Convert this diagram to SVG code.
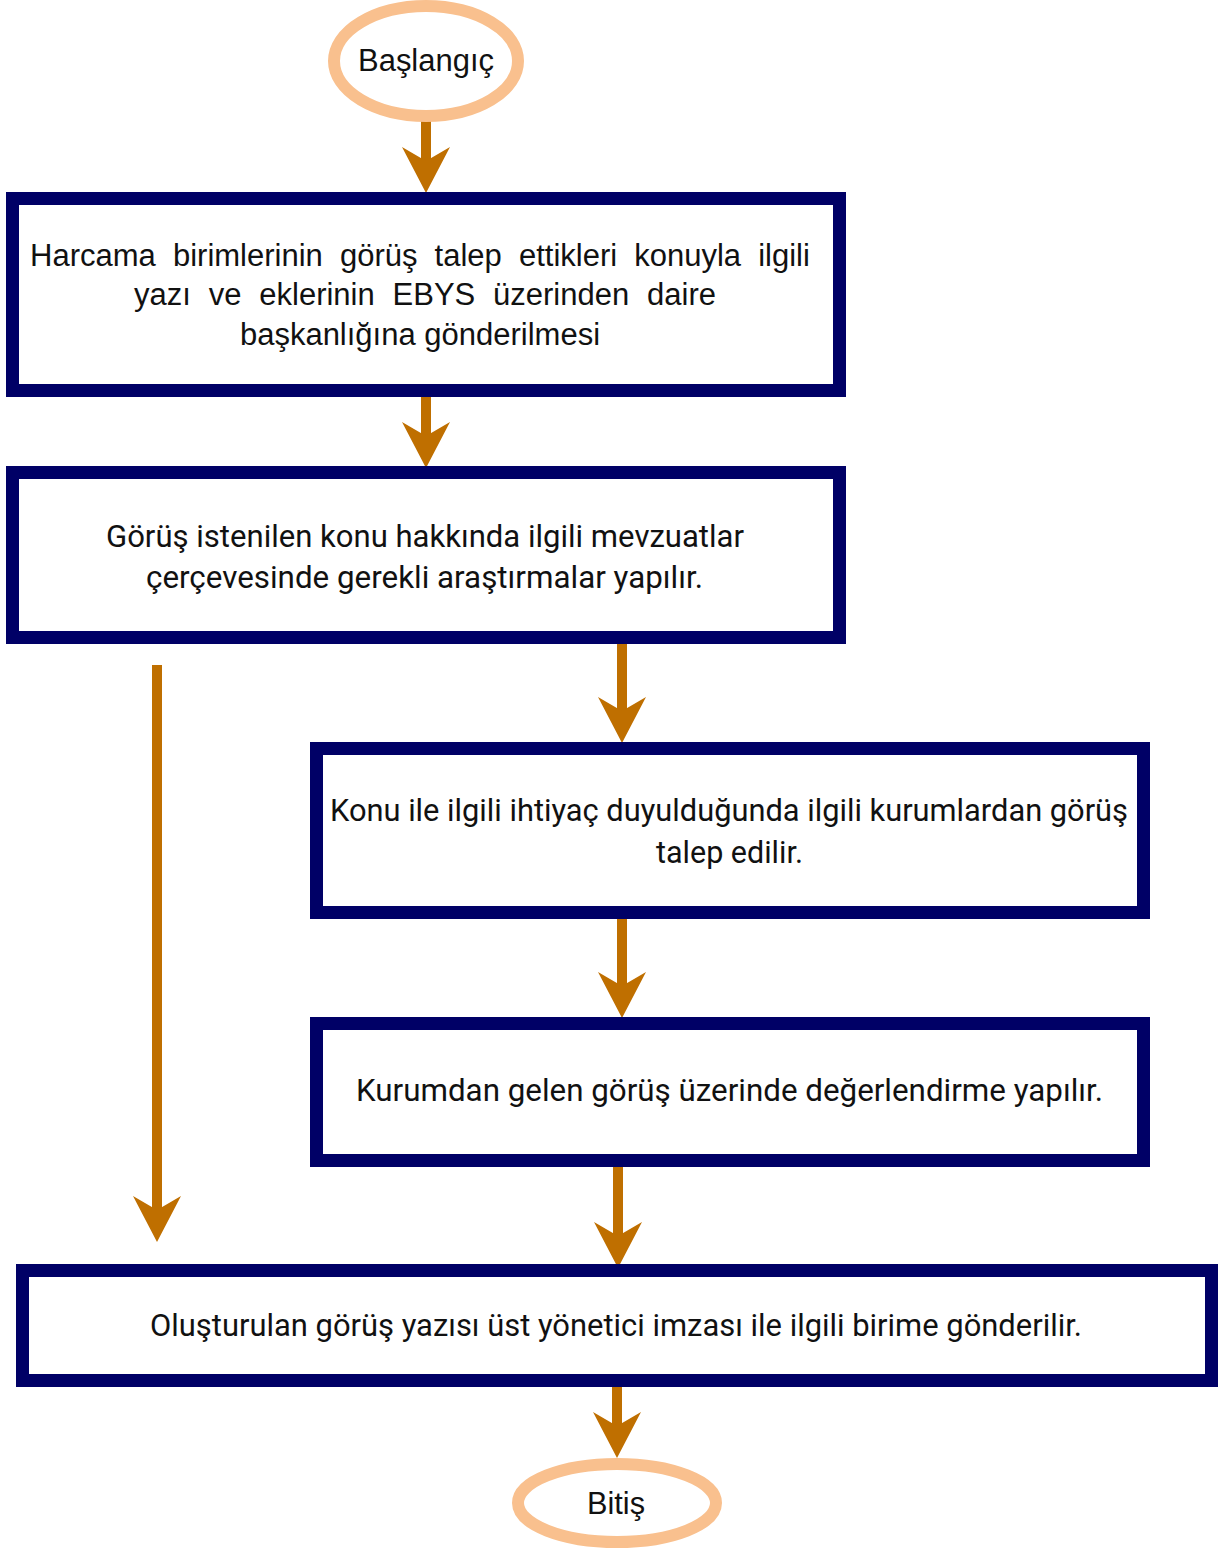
<svg xmlns="http://www.w3.org/2000/svg" width="1218" height="1550" viewBox="0 0 1218 1550">
<style>
.box{fill:#fff;stroke:#000066;stroke-width:13}
.term{fill:#fff;stroke:#F9C08E;stroke-width:12}
.t{font-family:Roboto,"Liberation Sans",sans-serif;font-size:31px;fill:#111;text-anchor:middle}
.a{font-family:"Liberation Sans",Arial,sans-serif;font-size:31px;fill:#111;text-anchor:middle}
.c{stroke:#BF6F00;stroke-width:10;fill:none;marker-end:url(#ah)}
</style>
<defs>
<marker id="ah" markerUnits="userSpaceOnUse" viewBox="-46 -24 46 48" markerWidth="46" markerHeight="48" refX="-14" refY="0" orient="auto">
<path d="M0,0 L-46,-24 L-32,0 L-46,24 Z" fill="#BF6F00"/>
</marker>
</defs>
<rect width="1218" height="1550" fill="#fff"/>
<g id="connectors">
<line class="c" x1="426" y1="118" x2="426" y2="179"/>
<line class="c" x1="426" y1="397" x2="426" y2="454"/>
<line class="c" x1="622" y1="638" x2="622" y2="729"/>
<line class="c" x1="157" y1="665" x2="157" y2="1228"/>
<line class="c" x1="622" y1="919" x2="622" y2="1004"/>
<line class="c" x1="618" y1="1167" x2="618" y2="1254"/>
<line class="c" x1="617" y1="1387" x2="617" y2="1444"/>
</g>
<g id="start">
<ellipse class="term" cx="426" cy="61" rx="92" ry="55"/>
<text class="a" x="426" y="71" textLength="136" lengthAdjust="spacingAndGlyphs">Başlangıç</text>
</g>
<g id="n1">
<rect class="box" x="12.5" y="198.5" width="827" height="192"/>
<text class="a" x="420" y="266" word-spacing="8.5">Harcama birimlerinin görüş talep ettikleri konuyla ilgili</text>
<text class="a" x="425" y="305" word-spacing="9.2">yazı ve eklerinin EBYS üzerinden daire</text>
<text class="a" x="420" y="345">başkanlığına gönderilmesi</text>
</g>
<g id="n2">
<rect class="box" x="12.5" y="472.5" width="827" height="165"/>
<text class="t" x="425" y="547" textLength="638" lengthAdjust="spacingAndGlyphs">Görüş istenilen konu hakkında ilgili mevzuatlar</text>
<text class="t" x="424.5" y="588" textLength="557" lengthAdjust="spacingAndGlyphs">çerçevesinde gerekli araştırmalar yapılır.</text>
</g>
<g id="n3">
<rect class="box" x="316.5" y="748.5" width="827" height="164"/>
<text class="t" x="729" y="821" textLength="798" lengthAdjust="spacingAndGlyphs">Konu ile ilgili ihtiyaç duyulduğunda ilgili kurumlardan görüş</text>
<text class="t" x="729.5" y="863" textLength="147" lengthAdjust="spacingAndGlyphs">talep edilir.</text>
</g>
<g id="n4">
<rect class="box" x="316.5" y="1023.5" width="827" height="137"/>
<text class="t" x="729.5" y="1101" textLength="747" lengthAdjust="spacingAndGlyphs">Kurumdan gelen görüş üzerinde değerlendirme yapılır.</text>
</g>
<g id="n5">
<rect class="box" x="22.5" y="1270.5" width="1189" height="110"/>
<text class="t" x="616" y="1336" textLength="932" lengthAdjust="spacingAndGlyphs">Oluşturulan görüş yazısı üst yönetici imzası ile ilgili birime gönderilir.</text>
</g>
<g id="end">
<ellipse class="term" cx="617" cy="1503" rx="99" ry="39"/>
<text class="a" x="616" y="1514" textLength="58" lengthAdjust="spacingAndGlyphs">Bitiş</text>
</g>
</svg>
